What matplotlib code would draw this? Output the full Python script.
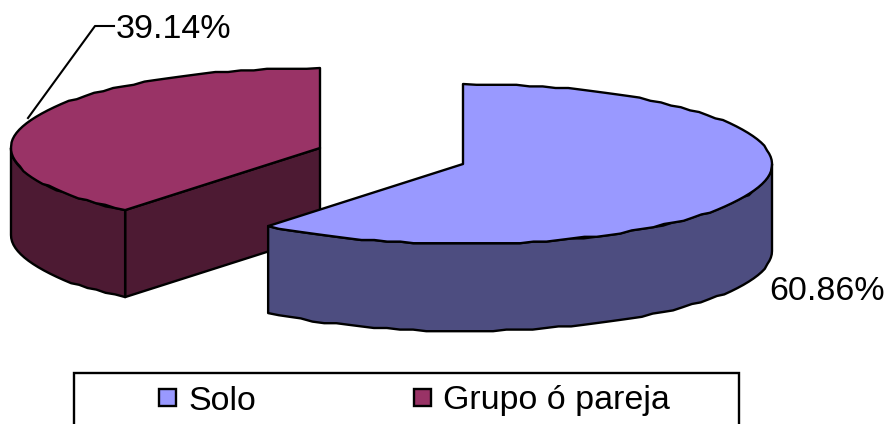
import numpy as np
import matplotlib
matplotlib.use("Agg")
import matplotlib.pyplot as plt
from matplotlib.patches import Rectangle

categories = ["Solo", "Grupo ó pareja"]
values = [60.86, 39.14]
labels = ["60.86%", "39.14%"]

W, H = 889, 424
TOP = ["#9999FF", "#993366"]
SIDE = ["#4D4D80", "#4D1A33"]
centers = [(463, 164), (320, 148)]
RX, RY, DEPTH = 309, 80, 87

plt.rcParams["font.family"] = ["Liberation Sans"]
fig = plt.figure(figsize=(W / 100, H / 100), dpi=100, facecolor="white")
ax = fig.add_axes([0, 0, 1, 1])
ax.set_xlim(0, W)
ax.set_ylim(H, 0)
ax.axis("off")


def arc(cx, cy, a0, a1, dy=0):
    # fine sampling, snapped to a small grid: the reference's curves are slightly stepped
    n = max(2, int(abs(a1 - a0) / 2.5) + 2)
    t = np.radians(np.linspace(a0, a1, n))
    x = cx + RX * np.cos(t)
    y = cy - RY * np.sin(t) + dy
    step = 1.6
    y[1:-1] = np.round(y[1:-1] / step) * step
    return x, y


LW = 1.7
start = 90.0
ang = []
for v in values:
    end = start - v / sum(values) * 360
    ang.append((start, end))
    start = end


def poly(x, y, fc):
    ax.fill(x, y, facecolor=fc, edgecolor="black", lw=LW, joinstyle="round")


# Red slice
(c0, c1) = ang[1]
cx, cy = centers[1]
xe = cx + RX * np.cos(np.radians(c0))
ye = cy - RY * np.sin(np.radians(c0))
poly([cx, xe, xe, cx], [cy, ye, ye + DEPTH, cy + DEPTH], SIDE[1])
x1, y1 = arc(cx, cy, c0, -180)
x2, y2 = arc(cx, cy, -180, c0, dy=DEPTH)
poly(np.r_[x1, x2], np.r_[y1, y2], SIDE[1])
x, y = arc(cx, cy, c0, c1)
poly(np.r_[cx, x], np.r_[cy, y], TOP[1])

# Blue slice
(b0, b1) = ang[0]
cx, cy = centers[0]
x1, y1 = arc(cx, cy, 0, b1)
x2, y2 = arc(cx, cy, b1, 0, dy=DEPTH)
poly(np.r_[x1, x2], np.r_[y1, y2], SIDE[0])
x, y = arc(cx, cy, b0, b1)
poly(np.r_[cx, x], np.r_[cy, y], TOP[0])

FS = 24.5
ax.text(769, 291, labels[0], fontsize=FS, ha="left", va="center", color="black")
ax.text(116, 30, labels[1], fontsize=FS, ha="left", va="center", color="black")
ax.plot([28, 95, 114], [118, 26, 26], color="black", lw=1.5)

# Legend
ax.add_patch(Rectangle((74, 373), 665, 60, facecolor="white", edgecolor="black", lw=1.7))
for mx, tx, name, col in zip([159, 414], [188, 443], categories, TOP):
    ax.add_patch(Rectangle((mx, 389), 17, 17, facecolor=col, edgecolor="black", lw=1.7))
    ax.text(tx, 401, name, fontsize=FS, ha="left", va="center", color="black")

fig.savefig("out.png", dpi=100)
